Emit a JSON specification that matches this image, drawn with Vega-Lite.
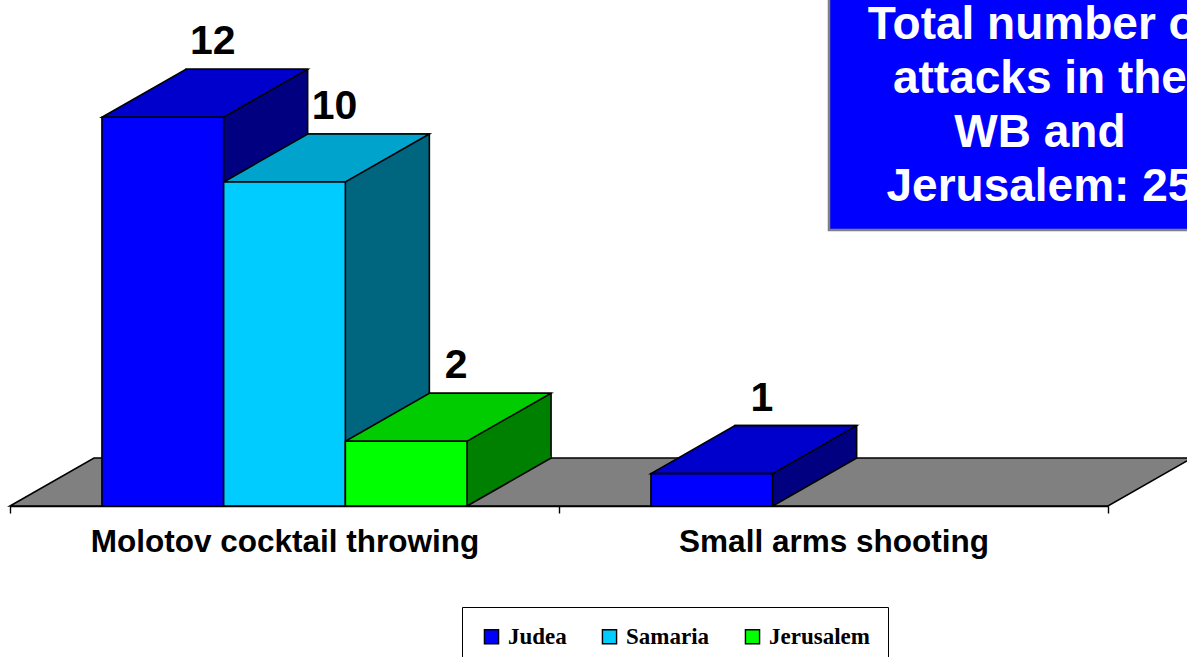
{
  "$schema": "https://vega.github.io/schema/vega-lite/v6.json",
  "width": 1098,
  "height": 486,
  "autosize": {"type": "none"},
  "padding": {"left": 10, "top": 20, "right": 79, "bottom": 151},
  "background": "white",
  "config": {"view": {"stroke": null}},
  "data": {
    "values": [
      {"category": "Molotov cocktail throwing", "region": "Judea", "attacks": 12},
      {"category": "Molotov cocktail throwing", "region": "Samaria", "attacks": 10},
      {"category": "Molotov cocktail throwing", "region": "Jerusalem", "attacks": 2},
      {"category": "Small arms shooting", "region": "Judea", "attacks": 1}
    ]
  },
  "encoding": {
    "x": {
      "field": "category",
      "type": "nominal",
      "sort": ["Molotov cocktail throwing", "Small arms shooting"],
      "scale": {"domain": ["Molotov cocktail throwing", "Small arms shooting"], "paddingInner": 0, "paddingOuter": 0},
      "axis": {
        "title": null,
        "grid": false,
        "labelAngle": 0,
        "labelLimit": 0,
        "labelOverlap": false,
        "labelFont": "Liberation Sans",
        "labelFontSize": 31.5,
        "labelFontWeight": "bold",
        "labelColor": "black",
        "labelPadding": 13,
        "tickSize": 7,
        "tickColor": "black",
        "tickWidth": 1.4,
        "tickBand": "extent",
        "domainColor": "black",
        "domainWidth": 1.6,
        "zindex": 1
      }
    },
    "y": {
      "field": "attacks",
      "type": "quantitative",
      "scale": {"domain": [0, 15], "nice": false, "zero": true},
      "axis": null
    }
  },
  "layer": [
    {
      "transform": [{"filter": "datum.region === 'Samaria'"}],
      "mark": {"type": "point", "shape": "M-274.5,0 L823.5,0 L907.5,-48 L-190.5,-48 Z", "size": 4, "filled": true, "opacity": 1, "fill": "#808080", "stroke": "black", "strokeWidth": 1.6},
      "encoding": {
        "x": {"datum": "Molotov cocktail throwing"},
        "y": {"datum": 0}
      }
    },
    {
      "mark": {"type": "bar", "yOffset": -48, "y2Offset": -48, "stroke": "black", "strokeWidth": 1.6},
      "encoding": {
        "xOffset": {"field": "region", "type": "nominal", "scale": {"type": "band", "domain": ["Judea", "Samaria", "Jerusalem"], "paddingInner": 0, "paddingOuter": 0.7555, "range": [84, 633]}},
        "fill": {"field": "region", "type": "nominal", "scale": {"domain": ["Judea", "Samaria", "Jerusalem"], "range": ["#000080", "#006680", "#008000"]}, "legend": null}
      }
    },
    {
      "mark": {"type": "point", "shape": "M60.85,0 L60.85,-49.5 L144.85,-49.5 L144.85,-48 Z", "size": 4, "filled": true, "opacity": 1, "strokeWidth": 0},
      "encoding": {
        "y": {"datum": 0},
        "xOffset": {"field": "region", "type": "nominal", "scale": {"type": "band", "domain": ["Judea", "Samaria", "Jerusalem"], "paddingInner": 0, "paddingOuter": 0.7555}},
        "fill": {"field": "region", "type": "nominal", "scale": {"domain": ["Judea", "Samaria", "Jerusalem"], "range": ["#000080", "#006680", "#008000"]}, "legend": null}
      }
    },
    {
      "mark": {"type": "point", "shape": "M60.85,0 L144.85,-48", "size": 4, "filled": false, "opacity": 1, "stroke": "black", "strokeWidth": 1.6},
      "encoding": {
        "y": {"datum": 0},
        "xOffset": {"field": "region", "type": "nominal", "scale": {"type": "band", "domain": ["Judea", "Samaria", "Jerusalem"], "paddingInner": 0, "paddingOuter": 0.7555}}
      }
    },
    {
      "mark": {"type": "point", "shape": "M-60.85,0 L60.85,0 L144.85,-48 L23.15,-48 Z", "size": 4, "filled": true, "opacity": 1, "stroke": "black", "strokeWidth": 1.6},
      "encoding": {
        "xOffset": {"field": "region", "type": "nominal", "scale": {"type": "band", "domain": ["Judea", "Samaria", "Jerusalem"], "paddingInner": 0, "paddingOuter": 0.7555}},
        "fill": {"field": "region", "type": "nominal", "scale": {"domain": ["Judea", "Samaria", "Jerusalem"], "range": ["#0000CC", "#00A3CC", "#00CC00"]}, "legend": null}
      }
    },
    {
      "mark": {"type": "bar", "stroke": "black", "strokeWidth": 1.6},
      "encoding": {
        "xOffset": {"field": "region", "type": "nominal", "scale": {"type": "band", "domain": ["Judea", "Samaria", "Jerusalem"], "paddingInner": 0, "paddingOuter": 0.7555}},
        "fill": {
          "field": "region",
          "type": "nominal",
          "scale": {"domain": ["Judea", "Samaria", "Jerusalem"], "range": ["#0000FF", "#00CCFF", "#00FF00"]},
          "legend": {
            "orient": "none",
            "legendX": 452,
            "legendY": 587,
            "direction": "horizontal",
            "title": null,
            "fillColor": "white",
            "strokeColor": "black",
            "padding": 18,
            "symbolType": "square",
            "symbolSize": 200,
            "symbolStrokeColor": "black",
            "symbolStrokeWidth": 1.4,
            "symbolOpacity": 1,
            "labelFont": "Liberation Serif",
            "labelFontWeight": "bold",
            "labelFontSize": 23,
            "labelColor": "black",
            "labelOffset": 5,
            "labelLimit": 0,
            "columnPadding": 31
          }
        }
      }
    },
    {
      "mark": {"type": "text", "dx": 50, "dy": -63, "align": "center", "baseline": "alphabetic", "font": "Liberation Sans", "fontWeight": "bold", "fontSize": 41, "color": "black"},
      "encoding": {
        "xOffset": {"field": "region", "type": "nominal", "scale": {"type": "band", "domain": ["Judea", "Samaria", "Jerusalem"], "paddingInner": 0, "paddingOuter": 0.7555}},
        "text": {"field": "attacks", "type": "quantitative"}
      }
    },
    {
      "transform": [{"filter": "datum.region === 'Samaria'"}],
      "mark": {"type": "rect", "fill": "#0000FF", "stroke": "#7f7f7f", "strokeWidth": 2.5, "x2Offset": 400, "yOffset": -40},
      "encoding": {
        "x": {"datum": "Small arms shooting", "bandPosition": 0.4918},
        "x2": {"datum": "Small arms shooting"},
        "y": {"datum": 15},
        "y2": {"datum": 8.52}
      }
    },
    {
      "transform": [{"filter": "datum.region === 'Samaria'"}],
      "mark": {"type": "text", "text": ["Total number of", "attacks in the", "WB and", "Jerusalem: 25"], "lineHeight": 54, "font": "Liberation Sans", "fontWeight": "bold", "fontSize": 46, "color": "white", "align": "center", "baseline": "middle"},
      "encoding": {
        "x": {"datum": "Small arms shooting", "bandPosition": 0.876},
        "y": {"datum": 14.85}
      }
    }
  ],
  "resolve": {"scale": {"fill": "independent", "xOffset": "independent"}}
}
